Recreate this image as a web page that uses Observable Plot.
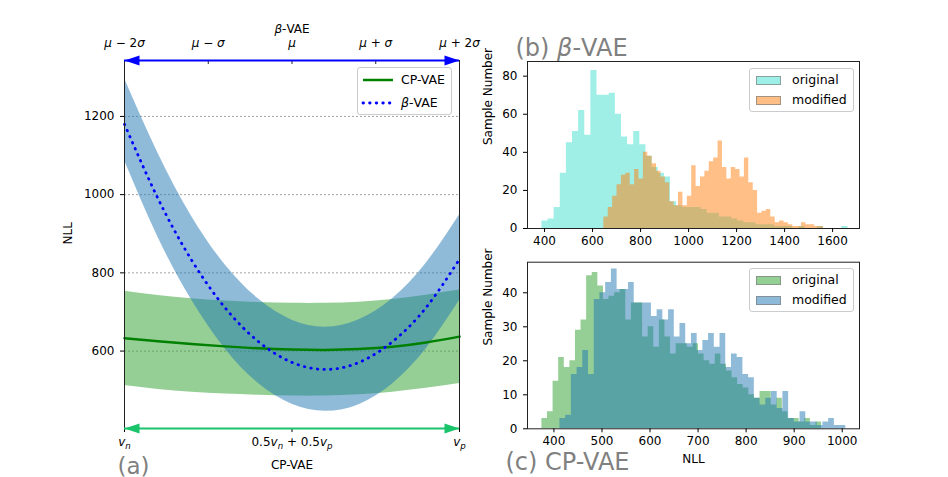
<!DOCTYPE html>
<html><head><meta charset="utf-8">
<script src="https://cdn.jsdelivr.net/npm/d3@7"></script>
<script src="https://cdn.jsdelivr.net/npm/@observablehq/plot@0.6"></script>
<style>
html,body{margin:0;padding:0;background:#fff;}
#fig{position:relative;width:948px;height:477px;overflow:hidden;font-family:"DejaVu Sans",sans-serif;}
#fig svg{position:absolute;overflow:visible;}
.leg{position:absolute;border:1px solid #cccccc;border-radius:3px;background:rgba(255,255,255,0.8);box-sizing:border-box;font-size:12.5px;color:#000;}
.leg .sw{position:absolute;}
.leg .lab{position:absolute;white-space:nowrap;line-height:1;transform:translateY(-50%);}
</style></head><body><div id="fig"></div>
<script>
// ---------- (a) interpolation curves: NLL along the path ----------
const tPos      = [0, 0.1, 0.2, 0.3, 0.4, 0.5, 0.6, 0.7, 0.8, 0.9, 1];
const cpMean    = [633, 625, 618, 612, 607, 604, 603, 605, 611, 622, 637];
const cpUpper   = [753, 742, 734, 728, 724, 722, 722, 725, 732, 743, 756];
const cpLower   = [512, 502, 495, 490, 487, 485, 485, 488, 495, 505, 517];
const betaMean  = [1180, 990, 833, 711, 624, 571, 553, 571, 624, 711, 835];
const betaUpper = [1297, 1106, 945, 821, 733, 679, 661, 680, 734, 824, 948];
const betaLower = [1087, 891, 731, 606, 517, 464, 446, 463, 516, 605, 729];
const nllTicks = [600, 800, 1000, 1200];
const nllDomain = [402, 1343];
const betaTickPos = [0, 0.25, 0.5, 0.75, 1];
const betaTickLabels = ["μ − 2σ", "μ − σ", "μ", "μ + σ", "μ + 2σ"];
const cpTickPos = [0, 0.5, 1];
const cpTickLabels = ["vₙ", "0.5vₙ + 0.5vₚ", "vₚ"];
const legendALabels = ["CP-VAE", "β-VAE"];

// ---------- (b) β-VAE histograms ----------
const betaOrigStart = 389, betaOrigWidth = 25.5;
const betaOrigCounts = [4,5,11,29,45,51,62,49,83,70,70,71,60,48,44,51,44,38,32,29,27,14,12,11,11,11,10,8,8,6,6,5,4,3,3,2,2,2,1,1,1,0,1,0,0,1,0,0,0,1];
const betaModStart = 647, betaModWidth = 18.3;
const betaModCounts = [6,11,17,23,28,29,23,31,26,40,38,34,30,27,24,14,12,19,12,17,33,22,27,30,35,37,46,32,26,32,31,27,37,24,20,8,9,10,6,3,4,3,2,1,1,3,2,2,1,1];
const betaXTicks = [400, 600, 800, 1000, 1200, 1400, 1600];
const betaYTicks = [0, 20, 40, 60, 80];

// ---------- (c) CP-VAE histograms ----------
const cpOrigStart = 375, cpOrigWidth = 11.64;
const cpOrigCounts = [3,5,14,21,18,20,29,32,45,46,42,38,39,40,41,32,37,37,27,30,24,32,27,22,25,25,24,25,22,20,19,22,19,17,15,13,12,10,9,11,11,7,9,5,3,3,2,3,1,2];
const cpModStart = 412.5, cpModWidth = 11.9;
const cpModCounts = [3,4,16,18,23,16,38,40,43,47,41,41,43,37,37,37,33,35,32,35,27,31,25,28,23,26,28,24,28,18,22,21,16,15,9,7,9,11,6,11,3,2,5,2,2,1,2,3,1,1];
const cpXTicks = [400, 500, 600, 700, 800, 900, 1000];
const cpYTicks = [0, 10, 20, 30, 40];
const histLegendLabels = ["original", "modified"];

// ---------- helpers ----------
const fig = document.getElementById("fig");
const baseStyle = {fontFamily: "DejaVu Sans", fontSize: "12px", background: "transparent", overflow: "visible", color: "#000"};
const plain = d => String(d);

function runsOf(s) {
  const runs = [];
  for (let i = 0; i < s.length; i++) {
    const c = s[i], nx = s[i + 1];
    let r;
    if (c === "ₙ" || c === "ₚ") r = {t: c === "ₙ" ? "n" : "p", it: true, sub: true};
    else if ("μσβ".includes(c) || (c === "v" && (nx === "ₙ" || nx === "ₚ"))) r = {t: c, it: true, sub: false};
    else r = {t: c, it: false, sub: false};
    const last = runs[runs.length - 1];
    if (last && last.it === r.it && last.sub === r.sub) last.t += r.t; else runs.push(r);
  }
  return runs;
}
function enrich(svg) {
  svg.querySelectorAll("text").forEach(t => {
    if (t.querySelector("tspan")) return;
    const s = t.textContent;
    if (!/[μσβₙₚ]/.test(s)) return;
    const runs = runsOf(s);
    t.textContent = "";
    let prevSub = false;
    for (const r of runs) {
      const ts = document.createElementNS("http://www.w3.org/2000/svg", "tspan");
      ts.textContent = r.t;
      if (r.it) ts.setAttribute("font-style", "italic");
      if (r.sub) { ts.setAttribute("font-size", "72%"); ts.setAttribute("dy", "3"); }
      else if (prevSub) ts.setAttribute("dy", "-3");
      prevSub = r.sub;
      t.appendChild(ts);
    }
  });
}
function richHTML(s) {
  return runsOf(s).map(r => r.sub ? `<sub><i>${r.t}</i></sub>` : r.it ? `<i>${r.t}</i>` : r.t).join("");
}
function place(el, left, top) { el.style.left = left + "px"; el.style.top = top + "px"; fig.appendChild(el); }
function stepPoints(start, width, counts) {
  const pts = counts.map((c, i) => ({x: start + i * width, y: c}));
  pts.push({x: start + counts.length * width, y: 0});
  return pts;
}
const headRight = {draw(ctx) { ctx.moveTo(0, 0); ctx.lineTo(-15, -5); ctx.lineTo(-15, 5); ctx.closePath(); }};
const headLeft  = {draw(ctx) { ctx.moveTo(0, 0); ctx.lineTo(15, -5); ctx.lineTo(15, 5); ctx.closePath(); }};

// ---------- panel (a) ----------
const curveRows = tPos.map((t, i) => ({t, cpMean: cpMean[i], cpUpper: cpUpper[i], cpLower: cpLower[i],
  betaMean: betaMean[i], betaUpper: betaUpper[i], betaLower: betaLower[i]}));
const aH = 477, aMT = 60, aMB = 49;
const frameHA = aH - aMT - aMB;
const arrowGreen = "#19c46a";
const first = a => a[0], last = a => a[a.length - 1];
const dotted = {strokeDasharray: "0.5,6.1", strokeLinecap: "round"};

const panelA = Plot.plot({
  width: 470, height: aH, marginLeft: 124, marginRight: 11, marginTop: aMT, marginBottom: aMB,
  x: {domain: [first(tPos), last(tPos)]},
  y: {domain: nllDomain},
  style: baseStyle,
  marks: [
    Plot.gridY(nllTicks, {stroke: "#7f7f7f", strokeOpacity: 0.9, strokeWidth: 0.8, strokeDasharray: "2,2"}),
    Plot.areaY(curveRows, {x: "t", y1: "cpLower", y2: "cpUpper", fill: "#2ca02c", fillOpacity: 0.5, curve: "natural", clip: true}),
    Plot.areaY(curveRows, {x: "t", y1: "betaLower", y2: "betaUpper", fill: "#1f77b4", fillOpacity: 0.5, curve: "natural", clip: true}),
    Plot.line(curveRows, {x: "t", y: "cpMean", stroke: "green", strokeWidth: 2.5, curve: "natural"}),
    Plot.line(curveRows, {x: "t", y: "betaMean", stroke: "blue", strokeWidth: 2.8, curve: "natural", ...dotted}),
    Plot.frame({stroke: "#222", strokeWidth: 1}),
    Plot.axisY(nllTicks, {tickSize: 4, tickPadding: 6, label: null, fontSize: 12, tickFormat: plain}),
    Plot.axisX(cpTickPos, {anchor: "bottom", tickSize: 4, tickPadding: 5, label: null, fontSize: 12,
      tickFormat: d => cpTickLabels[cpTickPos.indexOf(d)]}),
    Plot.axisX(betaTickPos, {anchor: "top", tickSize: 0, tickPadding: 14, label: null, fontSize: 12,
      tickFormat: d => betaTickLabels[betaTickPos.indexOf(d)]}),
    Plot.ruleX(betaTickPos, {insetBottom: frameHA - 4, stroke: "#222"}),
    // blue double arrow (top, β-VAE)
    Plot.ruleY([last(nllDomain)], {x1: first(betaTickPos), x2: last(betaTickPos), stroke: "blue", strokeWidth: 2.2}),
    Plot.dot([first(betaTickPos)], {x: d => d, y: last(nllDomain), symbol: headLeft, fill: "blue", stroke: "none"}),
    Plot.dot([last(betaTickPos)], {x: d => d, y: last(nllDomain), symbol: headRight, fill: "blue", stroke: "none"}),
    // green double arrow (bottom, CP-VAE)
    Plot.ruleY([first(nllDomain)], {x1: first(cpTickPos), x2: last(cpTickPos), stroke: arrowGreen, strokeWidth: 2.2}),
    Plot.dot([first(cpTickPos)], {x: d => d, y: first(nllDomain), symbol: headLeft, fill: arrowGreen, stroke: "none"}),
    Plot.dot([last(cpTickPos)], {x: d => d, y: first(nllDomain), symbol: headRight, fill: arrowGreen, stroke: "none"}),
    Plot.text(["NLL"], {text: d => d, frameAnchor: "left", dx: -56, rotate: -90, fontSize: 12}),
    Plot.text(["β-VAE"], {text: d => d, frameAnchor: "top", dy: -36, fontSize: 12}),
    Plot.text(["CP-VAE"], {text: d => d, frameAnchor: "bottom", dy: 40, fontSize: 12}),
    Plot.text(["(a)"], {text: d => d, frameAnchor: "bottom-left", dx: -7, dy: 45, textAnchor: "start", fontSize: 23, fill: "#808080"})
  ]
});
enrich(panelA);
place(panelA, 0, 0);

// legend (a)
{
  const lg = document.createElement("div");
  lg.className = "leg";
  lg.style.width = "95px"; lg.style.height = "48px";
  const styles = [{color: "green", dash: null}, {color: "blue", dash: "0.5,6.1"}];
  const ys = [12, 34.5];
  legendALabels.forEach((lab, i) => {
    const sw = document.createElementNS("http://www.w3.org/2000/svg", "svg");
    sw.setAttribute("class", "sw"); sw.setAttribute("width", "34"); sw.setAttribute("height", "6");
    sw.style.left = "3px"; sw.style.top = (ys[i] - 3) + "px";
    const ln = document.createElementNS("http://www.w3.org/2000/svg", "line");
    ln.setAttribute("x1", "2"); ln.setAttribute("x2", "32"); ln.setAttribute("y1", "3"); ln.setAttribute("y2", "3");
    ln.setAttribute("stroke", styles[i].color); ln.setAttribute("stroke-width", styles[i].dash ? "2.8" : "2.5");
    if (styles[i].dash) { ln.setAttribute("stroke-dasharray", styles[i].dash); ln.setAttribute("stroke-linecap", "round"); }
    sw.appendChild(ln); lg.appendChild(sw);
    const tx = document.createElement("div");
    tx.className = "lab"; tx.style.left = "43px"; tx.style.top = ys[i] + "px";
    tx.innerHTML = richHTML(lab);
    lg.appendChild(tx);
  });
  place(lg, 357, 67);
}

function histLegend(left, top, colors) {
  const lg = document.createElement("div");
  lg.className = "leg";
  lg.style.width = "105px"; lg.style.height = "44px";
  const ys = [11, 31];
  histLegendLabels.forEach((lab, i) => {
    const sw = document.createElement("div");
    sw.className = "sw";
    sw.style.cssText = `left:6px;top:${ys[i] - 4.5}px;width:25px;height:9px;box-sizing:border-box;background:${colors[i]};opacity:0.5;border:1px solid rgba(0,0,0,0.7);`;
    lg.appendChild(sw);
    const tx = document.createElement("div");
    tx.className = "lab"; tx.style.left = "42px"; tx.style.top = ys[i] + "px";
    tx.innerHTML = richHTML(lab);
    lg.appendChild(tx);
  });
  place(lg, left, top);
}

// ---------- panel (b) ----------
const panelB = Plot.plot({
  width: 478, height: 252, marginLeft: 57, marginRight: 89, marginTop: 61, marginBottom: 24,
  x: {domain: [329, 1712]}, y: {domain: [0, 87.7]},
  style: baseStyle,
  marks: [
    Plot.areaY(stepPoints(betaOrigStart, betaOrigWidth, betaOrigCounts), {x: "x", y: "y", curve: "step-after", fill: "turquoise", fillOpacity: 0.5}),
    Plot.areaY(stepPoints(betaModStart, betaModWidth, betaModCounts), {x: "x", y: "y", curve: "step-after", fill: "#ff7f0e", fillOpacity: 0.5}),
    Plot.frame({stroke: "#222", strokeWidth: 1}),
    Plot.axisY(betaYTicks, {tickSize: 4, tickPadding: 6, label: null, fontSize: 12, tickFormat: plain}),
    Plot.axisX(betaXTicks, {tickSize: 4, tickPadding: 4, label: null, fontSize: 12, tickFormat: plain}),
    Plot.text(["Sample Number"], {text: d => d, frameAnchor: "left", dx: -39, rotate: -90, fontSize: 12}),
    Plot.text(["(b) β-VAE"], {text: d => d, frameAnchor: "top-left", dx: -12, dy: -23, textAnchor: "start", fontSize: 24, fill: "#808080"})
  ]
});
enrich(panelB);
place(panelB, 470, 0);
histLegend(749, 68, ["turquoise", "#ff7f0e"]);

// ---------- panel (c) ----------
const panelC = Plot.plot({
  width: 478, height: 225, marginLeft: 57, marginRight: 89, marginTop: 9.7, marginBottom: 48.7,
  x: {domain: [345, 1036]}, y: {domain: [0, 49]},
  style: baseStyle,
  marks: [
    Plot.areaY(stepPoints(cpOrigStart, cpOrigWidth, cpOrigCounts), {x: "x", y: "y", curve: "step-after", fill: "#2ca02c", fillOpacity: 0.5}),
    Plot.areaY(stepPoints(cpModStart, cpModWidth, cpModCounts), {x: "x", y: "y", curve: "step-after", fill: "#1f77b4", fillOpacity: 0.5}),
    Plot.frame({stroke: "#222", strokeWidth: 1}),
    Plot.axisY(cpYTicks, {tickSize: 4, tickPadding: 6, label: null, fontSize: 12, tickFormat: plain}),
    Plot.axisX(cpXTicks, {tickSize: 4, tickPadding: 4, label: null, fontSize: 12, tickFormat: plain}),
    Plot.text(["Sample Number"], {text: d => d, frameAnchor: "left", dx: -39.5, rotate: -90, fontSize: 12}),
    Plot.text(["NLL"], {text: d => d, frameAnchor: "bottom", dy: 34, fontSize: 12}),
    Plot.text(["(c) CP-VAE"], {text: d => d, frameAnchor: "bottom-left", dx: -22, dy: 41, textAnchor: "start", fontSize: 24, fill: "#808080"})
  ]
});
enrich(panelC);
place(panelC, 470, 252);
histLegend(749, 268, ["#2ca02c", "#1f77b4"]);
</script></body></html>
